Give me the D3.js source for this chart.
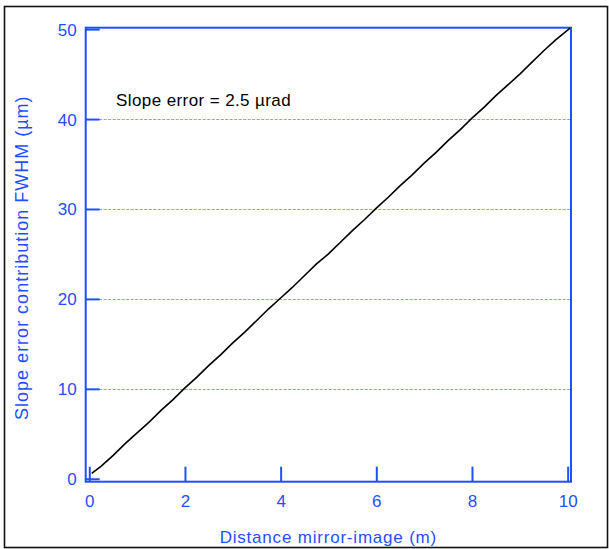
<!DOCTYPE html>
<html><head><meta charset="utf-8">
<script src="https://cdn.jsdelivr.net/npm/d3@7"></script>
<style>body{margin:0;background:#fff}svg{display:block}</style>
</head><body>
<script>
const xTicks = [0, 2, 4, 6, 8, 10];
const yTicks = [0, 10, 20, 30, 40, 50];
const gridValues = [10, 20, 30, 40];
const distance = [0.05, 0.25, 0.5, 0.75, 1.0, 1.25, 1.5, 1.75, 2.0, 2.25, 2.5, 2.75, 3.0, 3.25, 3.5, 3.75, 4.0, 4.25, 4.5, 4.75, 5.0, 5.25, 5.5, 5.75, 6.0, 6.25, 6.5, 6.75, 7.0, 7.25, 7.5, 7.75, 8.0, 8.25, 8.5, 8.75, 9.0, 9.25, 9.5, 9.75, 10.05];
const fwhm =     [0.6, 1.4, 2.6, 3.9, 5.1, 6.3, 7.6, 8.8, 10.1, 11.3, 12.6, 13.8, 15.1, 16.3, 17.6, 18.9, 20.1, 21.3, 22.6, 23.9, 25.0, 26.3, 27.6, 28.8, 30.1, 31.3, 32.6, 33.8, 35.1, 36.3, 37.6, 38.8, 40.1, 41.3, 42.6, 43.8, 45.0, 46.3, 47.6, 48.8, 50.1];
const annotation = "Slope error = 2.5 \u00b5rad";
const xTitle = "Distance mirror-image (m)";
const yTitle = "Slope error contribution FWHM (\u00b5m)";

const W = 609, H = 549;
const blue = "#1f4fff";
const font = "Liberation Sans, Arial, sans-serif";
const svg = d3.select("body").append("svg").attr("width", W).attr("height", H);

svg.append("rect").attr("x", 4.5).attr("y", 6.5).attr("width", 603).attr("height", 541)
  .attr("fill", "none").attr("stroke", "#111").attr("stroke-width", 1.6);

const x = d3.scaleLinear().domain([-0.075, 10.07]).range([85.7, 571]);
const y = d3.scaleLinear().domain([-0.33, 50.16]).range([481.7, 27.7]);

// grid
svg.append("g").selectAll("line").data(gridValues).join("line")
  .attr("x1", x.range()[0]).attr("x2", x.range()[1])
  .attr("y1", d => Math.round(y(d)) + 0.5).attr("y2", d => Math.round(y(d)) + 0.5)
  .style("stroke", "#8f9aff").style("stroke-width", "1.2px").style("stroke-dasharray", "3,1.5");

// axes (inward ticks)
const gx = svg.append("g").attr("transform", `translate(0,${y.range()[0]})`)
  .call(d3.axisBottom(x).tickValues(xTicks).tickSize(-15).tickPadding(25).tickSizeOuter(0));
const gy = svg.append("g").attr("transform", `translate(${x.range()[0]},0)`)
  .call(d3.axisLeft(y).tickValues(yTicks).tickSize(-14).tickPadding(9).tickSizeOuter(0));
[gx, gy].forEach(g => {
  g.select(".domain").remove();
  g.selectAll(".tick line").attr("stroke", blue).attr("stroke-width", 2);
  g.selectAll(".tick text").attr("fill", blue).style("font-family", font).style("font-size", "17px");
});
gx.selectAll(".tick text").attr("dy", "0");
gy.selectAll(".tick text").attr("dy", "0.35em");

// frame
svg.append("rect").attr("x", x.range()[0]).attr("y", y.range()[1])
  .attr("width", x.range()[1] - x.range()[0]).attr("height", y.range()[0] - y.range()[1])
  .attr("fill", "none").attr("stroke", blue).attr("stroke-width", 2);

// line
const pts = distance.map((d, i) => [d, fwhm[i]]);
svg.append("path").datum(pts)
  .attr("d", d3.line().x(d => x(d[0])).y(d => y(d[1])))
  .attr("fill", "none").attr("stroke", "#000").attr("stroke-width", 1.6);

// annotation
svg.append("text").attr("x", x(0.56)).attr("y", y(41.5))
  .attr("fill", "#000").style("font-family", font).style("font-size", "17px").style("letter-spacing", "0.4px")
  .text(annotation);

// titles
svg.append("text").attr("x", (x.range()[0] + x.range()[1]) / 2).attr("y", 543)
  .attr("text-anchor", "middle").attr("fill", blue)
  .style("font-family", font).style("font-size", "17px").style("letter-spacing", "0.8px").text(xTitle);
svg.append("text").attr("transform", `translate(28,${(y.range()[0] + y.range()[1]) / 2 + 3}) rotate(-90)`)
  .attr("text-anchor", "middle").attr("fill", blue)
  .style("font-family", font).style("font-size", "18px").style("letter-spacing", "1px").text(yTitle);
</script>
</body></html>
